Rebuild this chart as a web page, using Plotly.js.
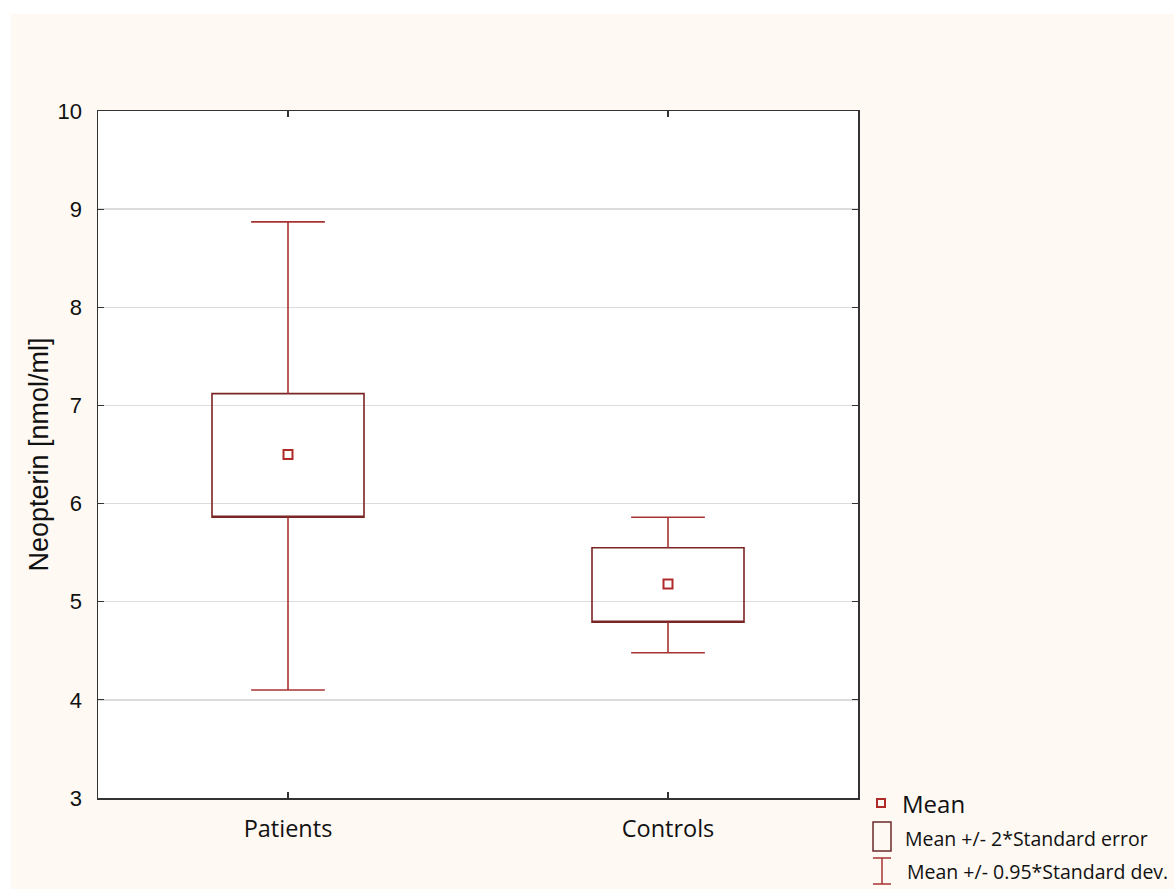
<!DOCTYPE html>
<html>
<head>
<meta charset="utf-8">
<script src="https://cdn.plot.ly/plotly-3.0.1.min.js"></script>
<style>
  html, body { margin: 0; padding: 0; background: #ffffff; }
  #chart { position: absolute; left: 11px; top: 14px; width: 1163px; height: 875px; }
</style>
</head>
<body>
<div id="chart"></div>
<script>
// ---- data ----
const categories = ['Patients', 'Controls'];
const means      = [6.50, 5.18];
const seLower    = [5.86, 4.79];   // Mean - 2*SE
const seUpper    = [7.12, 5.55];   // Mean + 2*SE
const sdLower    = [4.10, 4.48];   // Mean - 0.95*SD
const sdUpper    = [8.87, 5.86];   // Mean + 0.95*SD
const yTicks     = [3, 4, 5, 6, 7, 8, 9, 10];

// ---- styles ----
const boxColor = '#7a2424';
const whiskerColor = '#a83232';
const meanColor = '#b02a2a';
const capHalf = 0.097;
const xs = categories.map((c, i) => i);

const boxTrace = {
  type: 'box', x: xs,
  q1: seLower, q3: seUpper, median: seLower,
  lowerfence: seLower, upperfence: seUpper,
  width: 0.4, whiskerwidth: 0, boxpoints: false,
  fillcolor: 'rgba(0,0,0,0)',
  line: { color: boxColor, width: 1.6 },
  hoverinfo: 'skip', showlegend: false
};

const wx = [], wy = [];
xs.forEach((x, i) => {
  wx.push(x, x, null, x, x, null, x - capHalf, x + capHalf, null, x - capHalf, x + capHalf, null);
  wy.push(seUpper[i], sdUpper[i], null, seLower[i], sdLower[i], null,
          sdUpper[i], sdUpper[i], null, sdLower[i], sdLower[i], null);
});
const whiskerTrace = {
  type: 'scatter', mode: 'lines', x: wx, y: wy,
  line: { color: whiskerColor, width: 1.6 },
  hoverinfo: 'skip', showlegend: false
};

const meanTrace = {
  type: 'scatter', mode: 'markers', x: xs, y: means,
  marker: { symbol: 'square-open', size: 9, color: meanColor, line: { width: 2, color: meanColor } },
  showlegend: false
};

// paper coordinate helpers for the hand-made legend (plot area 760 x 687 px)
const px = v => (v - 98) / 760;
const py = v => (798 - v) / 687;

const textFont = '"Open Sans", Lato, sans-serif';
const numFont = '"Liberation Sans", Arial, sans-serif';
const shapes = [
  { type: 'rect', xref: 'paper', yref: 'paper', x0: px(877), x1: px(885), y0: py(807), y1: py(799),
    line: { color: meanColor, width: 2 } },
  { type: 'rect', xref: 'paper', yref: 'paper', x0: px(873), x1: px(891), y0: py(851), y1: py(822),
    line: { color: '#6b2a2a', width: 1.5 } },
  { type: 'line', xref: 'paper', yref: 'paper', x0: px(882), x1: px(882), y0: py(884), y1: py(858),
    line: { color: whiskerColor, width: 1.5 } },
  { type: 'line', xref: 'paper', yref: 'paper', x0: px(873), x1: px(891), y0: py(858), y1: py(858),
    line: { color: whiskerColor, width: 1.5 } },
  { type: 'line', xref: 'paper', yref: 'paper', x0: px(873), x1: px(891), y0: py(884), y1: py(884),
    line: { color: whiskerColor, width: 1.5 } }
];
const annotations = [
  { xref: 'paper', yref: 'paper', x: px(900), y: py(803), xanchor: 'left', yanchor: 'middle', showarrow: false,
    text: 'Mean', font: { family: textFont, size: 24, color: '#111' } },
  { xref: 'paper', yref: 'paper', x: px(903), y: py(838), xanchor: 'left', yanchor: 'middle', showarrow: false,
    text: 'Mean +/- 2*Standard error', font: { family: textFont, size: 19.5, color: '#111' } },
  { xref: 'paper', yref: 'paper', x: px(905), y: py(871), xanchor: 'left', yanchor: 'middle', showarrow: false,
    text: 'Mean +/- 0.95*Standard dev.', font: { family: textFont, size: 19.5, color: '#111' } }
];

const layout = {
  width: 1163, height: 875,
  margin: { l: 87, r: 316, t: 97, b: 91, pad: 0 },
  paper_bgcolor: '#fef9f2', plot_bgcolor: '#ffffff',
  showlegend: false,
  xaxis: {
    range: [-0.5, 1.5], tickvals: xs, ticktext: categories,
    ticks: 'inside', ticklen: 6, tickcolor: '#333', tickwidth: 1.2,
    showline: true, linecolor: '#333', linewidth: 1.5, mirror: 'ticks',
    showgrid: false, zeroline: false,
    tickfont: { family: textFont, size: 23.5, color: '#111' },
    ticklabelstandoff: 9
  },
  yaxis: {
    range: [3, 10], tickvals: yTicks,
    ticks: 'inside', ticklen: 6, tickcolor: '#333', tickwidth: 1.2,
    showline: true, linecolor: '#333', linewidth: 1.5, mirror: 'ticks',
    showgrid: true, gridcolor: '#dcdcdc', gridwidth: 1.5, zeroline: false,
    tickfont: { family: numFont, size: 22, color: '#111' },
    ticklabelstandoff: 10,
    title: { text: 'Neopterin [nmol/ml]', standoff: 1,
             font: { family: numFont, size: 27, color: '#111' } }
  },
  shapes: shapes,
  annotations: annotations
};

Plotly.newPlot('chart', [boxTrace, whiskerTrace, meanTrace], layout, { displayModeBar: false, staticPlot: true });
</script>
</body>
</html>
